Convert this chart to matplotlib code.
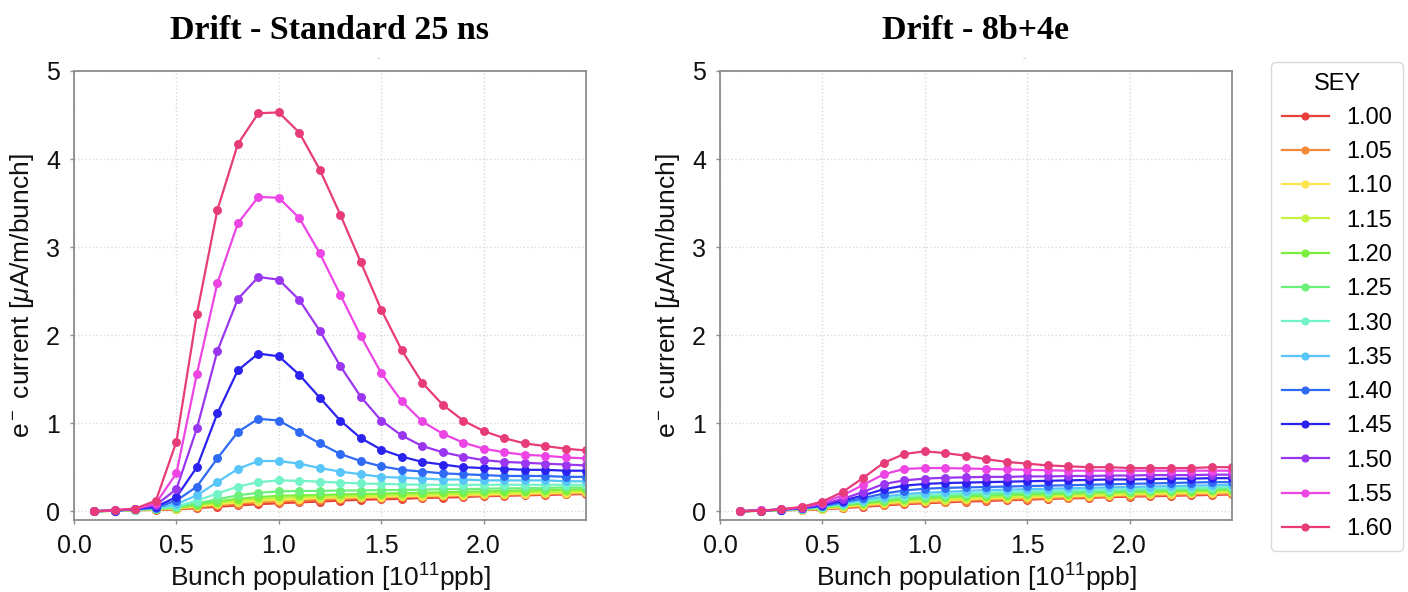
import matplotlib
matplotlib.use("Agg")
import matplotlib.pyplot as plt

plt.rcParams['font.family'] = ['Liberation Sans', 'DejaVu Sans']
plt.rcParams['mathtext.fontset'] = 'custom'
plt.rcParams['mathtext.rm'] = 'Liberation Sans'
plt.rcParams['mathtext.it'] = 'Liberation Sans:italic'
plt.rcParams['mathtext.bf'] = 'Liberation Sans:bold'

# ---------------- data ----------------
bunch_population = [0.1, 0.2, 0.3, 0.4, 0.5, 0.6, 0.7, 0.8, 0.9, 1.0,
                    1.1, 1.2, 1.3, 1.4, 1.5, 1.6, 1.7, 1.8, 1.9, 2.0,
                    2.1, 2.2, 2.3, 2.4, 2.5]

sey_labels = ["1.00", "1.05", "1.10", "1.15", "1.20", "1.25", "1.30",
              "1.35", "1.40", "1.45", "1.50", "1.55", "1.60"]

sey_colors = ['#e8403a', '#f28a3a', '#fbe54a', '#c4f442', '#7cee3e',
              '#6cf07c', '#72f3c8', '#58c6f8', '#2f6af4', '#2b22ef',
              '#9a36ef', '#ec45e4', '#e73b7a']

titles = ["Drift - Standard 25 ns", "Drift - 8b+4e"]

# Standard 25 ns
std_1_00 = [0.0, 0.005, 0.01, 0.015, 0.02, 0.035, 0.05, 0.065, 0.08, 0.09, 0.10, 0.11, 0.12, 0.13, 0.135, 0.14, 0.15, 0.155, 0.16, 0.17, 0.175, 0.18, 0.185, 0.19, 0.195]
std_1_05 = [0.0, 0.005, 0.012, 0.02, 0.025, 0.045, 0.065, 0.085, 0.10, 0.11, 0.12, 0.13, 0.14, 0.15, 0.155, 0.16, 0.165, 0.17, 0.175, 0.18, 0.185, 0.19, 0.195, 0.20, 0.205]
std_1_10 = [0.0, 0.005, 0.014, 0.022, 0.03, 0.055, 0.08, 0.10, 0.12, 0.13, 0.14, 0.15, 0.155, 0.16, 0.165, 0.17, 0.175, 0.18, 0.185, 0.19, 0.195, 0.20, 0.205, 0.21, 0.215]
std_1_15 = [0.0, 0.005, 0.015, 0.025, 0.035, 0.065, 0.095, 0.12, 0.14, 0.15, 0.16, 0.165, 0.17, 0.175, 0.18, 0.185, 0.19, 0.195, 0.20, 0.205, 0.21, 0.215, 0.22, 0.225, 0.23]
std_1_20 = [0.0, 0.005, 0.016, 0.028, 0.04, 0.075, 0.11, 0.14, 0.16, 0.175, 0.18, 0.185, 0.19, 0.195, 0.20, 0.205, 0.21, 0.215, 0.22, 0.225, 0.23, 0.235, 0.24, 0.245, 0.25]
std_1_25 = [0.0, 0.005, 0.017, 0.03, 0.045, 0.09, 0.135, 0.18, 0.21, 0.225, 0.23, 0.23, 0.235, 0.235, 0.24, 0.24, 0.245, 0.25, 0.25, 0.255, 0.26, 0.26, 0.265, 0.27, 0.27]
std_1_30 = [0.0, 0.006, 0.018, 0.032, 0.055, 0.12, 0.20, 0.28, 0.33, 0.35, 0.345, 0.335, 0.325, 0.315, 0.31, 0.305, 0.30, 0.30, 0.30, 0.30, 0.30, 0.30, 0.30, 0.30, 0.30]
std_1_35 = [0.0, 0.006, 0.02, 0.035, 0.08, 0.18, 0.33, 0.48, 0.57, 0.57, 0.54, 0.49, 0.45, 0.42, 0.39, 0.38, 0.37, 0.36, 0.36, 0.35, 0.35, 0.35, 0.35, 0.34, 0.34]
std_1_40 = [0.0, 0.007, 0.022, 0.04, 0.12, 0.28, 0.60, 0.90, 1.05, 1.03, 0.90, 0.77, 0.65, 0.57, 0.51, 0.47, 0.45, 0.43, 0.42, 0.41, 0.40, 0.40, 0.40, 0.39, 0.39]
std_1_45 = [0.0, 0.007, 0.024, 0.05, 0.16, 0.50, 1.11, 1.60, 1.79, 1.76, 1.55, 1.29, 1.03, 0.83, 0.70, 0.62, 0.56, 0.53, 0.50, 0.49, 0.48, 0.47, 0.47, 0.46, 0.46]
std_1_50 = [0.0, 0.008, 0.026, 0.07, 0.25, 0.94, 1.82, 2.41, 2.66, 2.63, 2.40, 2.05, 1.65, 1.30, 1.03, 0.86, 0.74, 0.67, 0.62, 0.58, 0.56, 0.55, 0.54, 0.53, 0.52]
std_1_55 = [0.0, 0.009, 0.028, 0.09, 0.43, 1.56, 2.59, 3.27, 3.57, 3.56, 3.33, 2.93, 2.46, 1.99, 1.57, 1.25, 1.02, 0.88, 0.78, 0.71, 0.67, 0.64, 0.63, 0.61, 0.60]
std_1_60 = [0.0, 0.01, 0.03, 0.12, 0.79, 2.24, 3.42, 4.17, 4.52, 4.53, 4.30, 3.88, 3.37, 2.83, 2.29, 1.83, 1.46, 1.21, 1.03, 0.91, 0.83, 0.77, 0.74, 0.71, 0.69]

# 8b+4e
bcms_1_00 = [0.0, 0.005, 0.01, 0.015, 0.02, 0.035, 0.05, 0.065, 0.08, 0.09, 0.10, 0.11, 0.115, 0.125, 0.13, 0.14, 0.145, 0.15, 0.16, 0.165, 0.17, 0.175, 0.18, 0.185, 0.19]
bcms_1_05 = [0.0, 0.005, 0.011, 0.017, 0.025, 0.04, 0.06, 0.075, 0.09, 0.10, 0.11, 0.12, 0.13, 0.135, 0.14, 0.15, 0.155, 0.16, 0.17, 0.175, 0.18, 0.185, 0.19, 0.195, 0.20]
bcms_1_10 = [0.0, 0.005, 0.012, 0.019, 0.03, 0.05, 0.07, 0.09, 0.105, 0.115, 0.125, 0.135, 0.145, 0.15, 0.16, 0.165, 0.17, 0.175, 0.18, 0.19, 0.195, 0.20, 0.205, 0.21, 0.215]
bcms_1_15 = [0.0, 0.005, 0.013, 0.021, 0.035, 0.06, 0.08, 0.10, 0.12, 0.13, 0.14, 0.15, 0.16, 0.165, 0.175, 0.18, 0.185, 0.19, 0.195, 0.20, 0.21, 0.215, 0.22, 0.225, 0.23]
bcms_1_20 = [0.0, 0.005, 0.014, 0.023, 0.04, 0.065, 0.09, 0.115, 0.135, 0.15, 0.16, 0.17, 0.175, 0.185, 0.19, 0.195, 0.20, 0.21, 0.215, 0.22, 0.225, 0.23, 0.235, 0.24, 0.245]
bcms_1_25 = [0.0, 0.005, 0.015, 0.025, 0.045, 0.075, 0.10, 0.13, 0.15, 0.165, 0.175, 0.185, 0.19, 0.20, 0.205, 0.21, 0.215, 0.22, 0.23, 0.235, 0.24, 0.245, 0.25, 0.255, 0.26]
bcms_1_30 = [0.0, 0.006, 0.016, 0.027, 0.05, 0.08, 0.115, 0.145, 0.17, 0.185, 0.195, 0.205, 0.21, 0.22, 0.225, 0.23, 0.235, 0.24, 0.245, 0.25, 0.255, 0.26, 0.265, 0.27, 0.275]
bcms_1_35 = [0.0, 0.006, 0.017, 0.029, 0.055, 0.09, 0.13, 0.165, 0.195, 0.21, 0.22, 0.23, 0.24, 0.245, 0.25, 0.255, 0.26, 0.265, 0.27, 0.275, 0.28, 0.285, 0.29, 0.295, 0.30]
bcms_1_40 = [0.0, 0.007, 0.018, 0.031, 0.06, 0.10, 0.15, 0.20, 0.235, 0.255, 0.265, 0.27, 0.275, 0.28, 0.285, 0.29, 0.295, 0.30, 0.305, 0.31, 0.315, 0.32, 0.325, 0.33, 0.33]
bcms_1_45 = [0.0, 0.007, 0.019, 0.034, 0.07, 0.12, 0.18, 0.25, 0.29, 0.31, 0.32, 0.325, 0.33, 0.335, 0.34, 0.345, 0.35, 0.355, 0.36, 0.36, 0.365, 0.37, 0.37, 0.375, 0.375]
bcms_1_50 = [0.0, 0.008, 0.02, 0.038, 0.08, 0.14, 0.22, 0.31, 0.35, 0.37, 0.38, 0.385, 0.39, 0.39, 0.395, 0.395, 0.40, 0.40, 0.405, 0.405, 0.41, 0.41, 0.41, 0.415, 0.415]
bcms_1_55 = [0.0, 0.009, 0.022, 0.043, 0.095, 0.18, 0.30, 0.42, 0.48, 0.49, 0.49, 0.485, 0.48, 0.475, 0.47, 0.465, 0.46, 0.46, 0.46, 0.46, 0.46, 0.46, 0.46, 0.46, 0.46]
bcms_1_60 = [0.0, 0.005, 0.02, 0.05, 0.11, 0.22, 0.38, 0.55, 0.65, 0.68, 0.66, 0.63, 0.59, 0.56, 0.54, 0.52, 0.51, 0.50, 0.50, 0.49, 0.49, 0.49, 0.49, 0.50, 0.50]

std_series = [std_1_00, std_1_05, std_1_10, std_1_15, std_1_20, std_1_25, std_1_30,
              std_1_35, std_1_40, std_1_45, std_1_50, std_1_55, std_1_60]
bcms_series = [bcms_1_00, bcms_1_05, bcms_1_10, bcms_1_15, bcms_1_20, bcms_1_25, bcms_1_30,
               bcms_1_35, bcms_1_40, bcms_1_45, bcms_1_50, bcms_1_55, bcms_1_60]

x_ticks = [0.0, 0.5, 1.0, 1.5, 2.0]
y_ticks = [0, 1, 2, 3, 4, 5]

# ---------------- figure ----------------
W, H = 1408, 592
fig = plt.figure(figsize=(W / 100, H / 100), dpi=100)

ax_w = 512 / W
ax_h = 449 / H
ax_b = (H - 520) / H
axes = [fig.add_axes([74 / W, ax_b, ax_w, ax_h]),
        fig.add_axes([720 / W, ax_b, ax_w, ax_h])]

frame_color = '#8c8c8c'
for ax, title, series in zip(axes, titles, [std_series, bcms_series]):
    for lab, col, ys in zip(sey_labels, sey_colors, series):
        ax.plot(bunch_population, ys, '-o', color=col, lw=1.6, ms=5.4,
                label=lab, clip_on=True)
    ax.set_xlim(0.0, 2.5)
    ax.set_ylim(-0.1, 5.0)
    ax.set_xticks(x_ticks)
    ax.set_xticklabels([f"{v:.1f}" for v in x_ticks])
    ax.set_yticks(y_ticks)
    ax.grid(True, color='#d9d9d9', ls=':', lw=1.0)
    ax.set_axisbelow(True)
    for sp in ax.spines.values():
        sp.set_color(frame_color)
        sp.set_linewidth(1.3)
    ax.tick_params(axis='both', labelsize=18, length=3, width=1,
                   color=frame_color, pad=7, labelcolor='#111111')
    ax.set_xlabel(r'Bunch population [10$^{11}$ppb]', fontsize=19,
                  color='#111111', labelpad=3)
    ax.set_ylabel(r'e$^-$ current [$\mu$A/m/bunch]', fontsize=19,
                  color='#111111', labelpad=7)
    ax.set_title(title, fontsize=24.5, fontweight='bold',
                 family=['Liberation Serif', 'DejaVu Serif'], pad=23)
    ax.text(0.594, 1.029, '-', transform=ax.transAxes, fontsize=7,
            color='#bbbbbb', ha='center', va='center')

handles, labels = axes[0].get_legend_handles_labels()
leg = fig.legend(handles, labels, title='SEY', loc='upper left',
                 bbox_to_anchor=(1271 / W, 1 - 62 / H), borderaxespad=0,
                 fontsize=17, title_fontsize=17, frameon=True, fancybox=True,
                 handlelength=2.0, handletextpad=0.75, labelspacing=0.52,
                 borderpad=0.45, markerscale=0.9)
leg.get_frame().set_edgecolor('#d0d0d0')
leg.get_frame().set_linewidth(1.0)

fig.savefig('out.png', dpi=100)
